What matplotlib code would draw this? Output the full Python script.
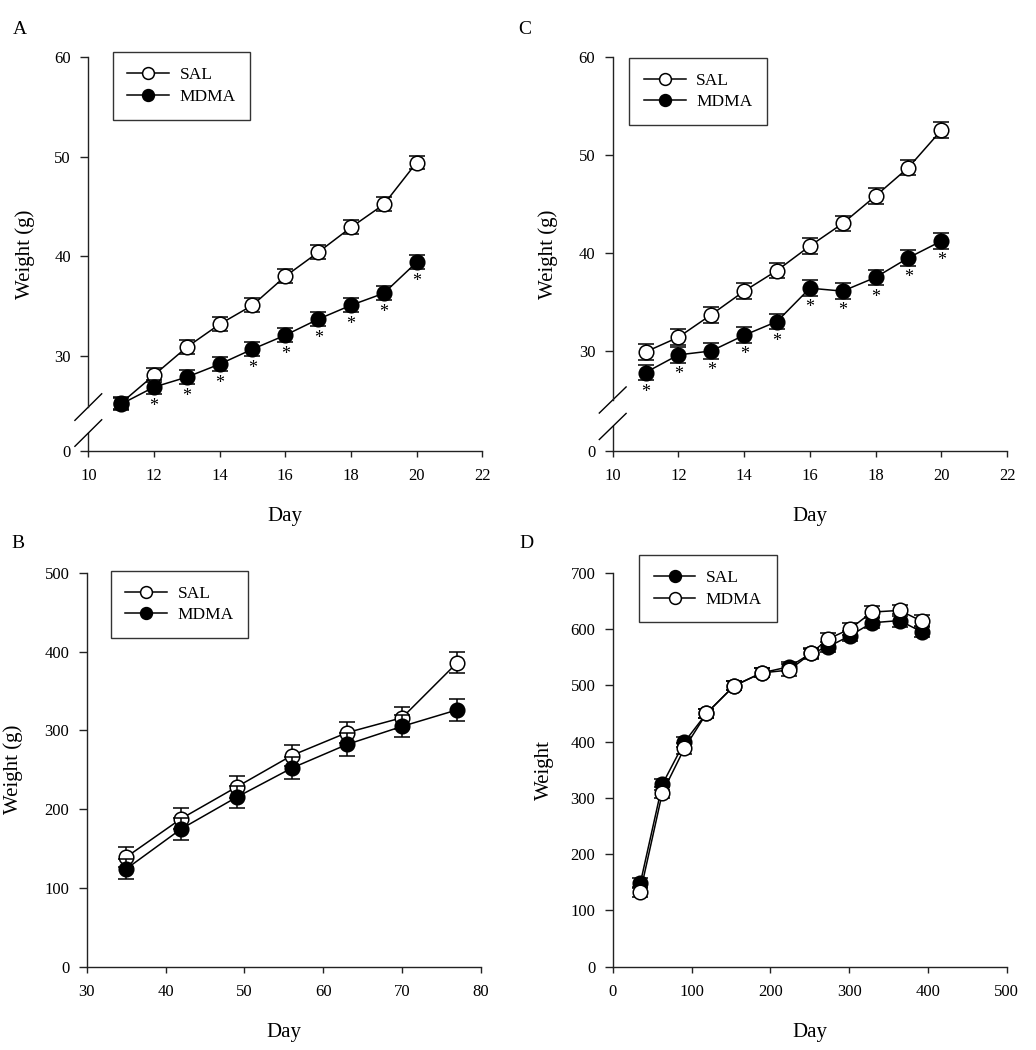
import matplotlib
matplotlib.use("Agg")
import matplotlib.pyplot as plt
from matplotlib.transforms import blended_transform_factory
from matplotlib.lines import Line2D

plt.rcParams["font.family"] = ["Liberation Serif", "DejaVu Serif"]

# ---- panel A: days 11-20 (broken y axis) ----
days_a = [11, 12, 13, 14, 15, 16, 17, 18, 19, 20]
sal_a = [25.3, 28.1, 30.9, 33.2, 35.1, 38.0, 40.4, 42.9, 45.2, 49.4]
sal_a_err = [0.6, 0.7, 0.7, 0.7, 0.7, 0.7, 0.7, 0.7, 0.7, 0.7]
mdma_a = [25.2, 26.9, 27.9, 29.2, 30.7, 32.1, 33.7, 35.1, 36.3, 39.4]
mdma_a_err = [0.6, 0.7, 0.7, 0.7, 0.7, 0.7, 0.7, 0.7, 0.7, 0.7]
stars_a = [12, 13, 14, 15, 16, 17, 18, 19, 20]

# ---- panel C: days 11-20 (broken y axis) ----
days_c = [11, 12, 13, 14, 15, 16, 17, 18, 19, 20]
sal_c = [29.9, 31.4, 33.7, 36.1, 38.2, 40.7, 43.0, 45.8, 48.7, 52.5]
sal_c_err = [0.8, 0.8, 0.8, 0.8, 0.8, 0.8, 0.8, 0.8, 0.8, 0.8]
mdma_c = [27.8, 29.6, 30.0, 31.6, 33.0, 36.4, 36.1, 37.5, 39.5, 41.2]
mdma_c_err = [0.8, 0.8, 0.8, 0.8, 0.8, 0.8, 0.8, 0.8, 0.8, 0.8]
stars_c = [11, 12, 13, 14, 15, 16, 17, 18, 19, 20]

# ---- panel B: weekly weights ----
days_b = [35, 42, 49, 56, 63, 70, 77]
sal_b = [139, 188, 228, 268, 297, 316, 386]
sal_b_err = [13, 13, 14, 13, 13, 14, 13]
mdma_b = [124, 175, 215, 252, 282, 305, 326]
mdma_b_err = [13, 14, 14, 14, 14, 14, 14]

# ---- panel D: long term ----
days_d = [35, 63, 91, 119, 154, 189, 224, 252, 273, 301, 329, 364, 392]
sal_d = [148, 324, 399, 450, 499, 522, 533, 557, 568, 588, 611, 615, 595]
sal_d_err = [9, 10, 9, 8, 8, 8, 8, 8, 9, 9, 10, 11, 10]
mdma_d = [132, 309, 388, 450, 499, 522, 527, 557, 582, 600, 630, 633, 614]
mdma_d_err = [9, 10, 10, 8, 8, 8, 10, 10, 10, 10, 10, 10, 11]

yticks_ac = [30, 40, 50, 60]
xticks_ac = [10, 12, 14, 16, 18, 20, 22]
xticks_b = [30, 40, 50, 60, 70, 80]
yticks_b = [0, 100, 200, 300, 400, 500]
xticks_d = [0, 100, 200, 300, 400, 500]
yticks_d = [0, 100, 200, 300, 400, 500, 600, 700]

W, H = 1036, 1050
fig = plt.figure(figsize=(W / 100, H / 100), dpi=100)


def px_rect(left, top, right, bottom):
    return [left / W, 1 - bottom / H, (right - left) / W, (bottom - top) / H]


ax_a = fig.add_axes(px_rect(88.3, 56.7, 482.3, 451))
ax_c = fig.add_axes(px_rect(612.7, 56.7, 1007.0, 451))
ax_b = fig.add_axes(px_rect(86.7, 572.7, 481.0, 966.7))
ax_d = fig.add_axes(px_rect(612.7, 572.7, 1006.7, 966.7))

SPINE = "#222222"


def style_axes(ax):
    for s in ("top", "right"):
        ax.spines[s].set_visible(False)
    for s in ("left", "bottom"):
        ax.spines[s].set_color(SPINE)
        ax.spines[s].set_linewidth(1.0)
    ax.tick_params(axis="x", direction="out", length=4, width=1.0,
                   color=SPINE, labelsize=12, pad=8.5)
    ax.tick_params(axis="y", direction="out", length=5.5, width=1.0,
                   color=SPINE, labelsize=12, pad=7)


def series(ax, x, y, err, filled, z):
    face = "black" if filled else "white"
    ax.errorbar(x, y, yerr=err, fmt="none", ecolor="black", elinewidth=1.1,
                capsize=6, capthick=1.1, zorder=z)
    line, = ax.plot(x, y, "-o", color="black", lw=1.1, ms=10.5, mfc=face,
                    mec="black", mew=1.1, zorder=z + 0.5)
    return line


def legend(ax, labels, faces, left, top):
    handles = [Line2D([], [], color="black", lw=1.1, marker="o", ms=8.5,
                      mfc=f, mec="black", mew=1.1) for f in faces]
    leg = ax.legend(handles, labels, loc="upper left",
                    bbox_to_anchor=(left / W, 1 - top / H),
                    bbox_transform=fig.transFigure, borderaxespad=0,
                    fontsize=12.5, handlelength=2.4, handletextpad=0.6,
                    labelspacing=0.32, borderpad=0.85, fancybox=False,
                    framealpha=1, edgecolor="#333333")
    leg.get_frame().set_linewidth(1.0)
    leg.set_zorder(10)


def broken(ax, y0, gap_lo, gap_hi, ytop):
    ax.set_ylim(y0, ytop)
    ax.spines["left"].set_bounds(gap_hi, ytop)
    tr = blended_transform_factory(ax.transAxes, ax.transData)
    ax.add_line(Line2D([0, 0], [y0, gap_lo], transform=tr, color=SPINE,
                       lw=1.0, clip_on=False))
    for yc in (gap_lo, gap_hi):
        ax.add_line(Line2D([-0.034, 0.034], [yc - 1.33, yc + 1.33],
                           transform=tr, color="black", lw=1.0,
                           clip_on=False))
    ax.set_yticks([y0] + yticks_ac)
    ax.set_yticklabels(["0"] + [str(t) for t in yticks_ac])


def stars(ax, days, mdma, which):
    for d, v in zip(days, mdma):
        if d in which:
            ax.annotate("*", (d, v), xytext=(0, -8), textcoords="offset points",
                        ha="center", va="top", fontsize=13, zorder=6)


# panel A
style_axes(ax_a)
series(ax_a, days_a, sal_a, sal_a_err, False, 2)
series(ax_a, days_a, mdma_a, mdma_a_err, True, 4)
stars(ax_a, days_a, mdma_a, stars_a)
ax_a.set_xlim(10, 22)
ax_a.set_xticks(xticks_ac)
broken(ax_a, 20.5, 22.3, 24.9, 60)
legend(ax_a, ["SAL", "MDMA"], ["white", "black"], 112.7, 52.3)

# panel C
style_axes(ax_c)
series(ax_c, days_c, sal_c, sal_c_err, False, 2)
series(ax_c, days_c, mdma_c, mdma_c_err, True, 4)
stars(ax_c, days_c, mdma_c, stars_c)
ax_c.set_xlim(10, 22)
ax_c.set_xticks(xticks_ac)
broken(ax_c, 19.8, 22.3, 25.0, 60)
legend(ax_c, ["SAL", "MDMA"], ["white", "black"], 629.3, 57.8)

# panel B
style_axes(ax_b)
series(ax_b, days_b, sal_b, sal_b_err, False, 2)
series(ax_b, days_b, mdma_b, mdma_b_err, True, 4)
ax_b.set_xlim(30, 80)
ax_b.set_ylim(0, 500)
ax_b.set_xticks(xticks_b)
ax_b.set_yticks(yticks_b)
legend(ax_b, ["SAL", "MDMA"], ["white", "black"], 110.7, 570.7)

# panel D
style_axes(ax_d)
series(ax_d, days_d, sal_d, sal_d_err, True, 2)
series(ax_d, days_d, mdma_d, mdma_d_err, False, 4)
ax_d.set_xlim(0, 500)
ax_d.set_ylim(0, 700)
ax_d.set_xticks(xticks_d)
ax_d.set_yticks(yticks_d)
legend(ax_d, ["SAL", "MDMA"], ["black", "white"], 639.0, 555.0)

# axis labels
for ax, ylab, ylx in ((ax_a, "Weight (g)", -0.161), (ax_c, "Weight (g)", -0.163),
                      (ax_b, "Weight (g)", -0.186), (ax_d, "Weight", -0.172)):
    ax.set_ylabel(ylab, fontsize=15, va="center")
    ax.yaxis.set_label_coords(ylx, 0.5)
    ax.set_xlabel("Day", fontsize=15, va="center")
    ax.xaxis.set_label_coords(0.5, -0.166)

# panel letters
for letter, x, y in (("A", 20, 30), ("C", 525, 30), ("B", 18, 543), ("D", 526, 543)):
    fig.text(x / W, 1 - y / H, letter, fontsize=14, ha="center", va="center")

fig.savefig("out.png", dpi=100, facecolor="white")
